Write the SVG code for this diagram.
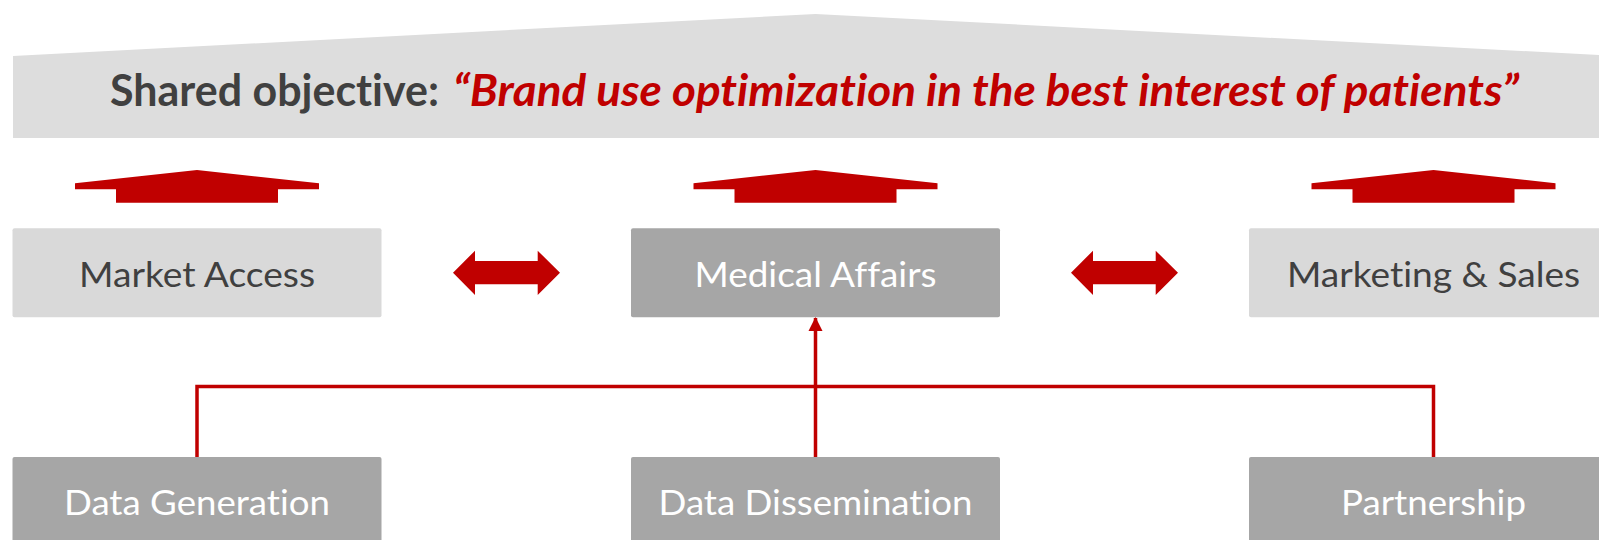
<svg xmlns="http://www.w3.org/2000/svg" width="1599" height="540" viewBox="0 0 1599 540">
  <style>
    text { font-variant-ligatures: none; font-feature-settings: "liga" 0, "clig" 0; }
    .lbl { font-family: Lato, "Open Sans", "Liberation Sans", sans-serif; font-size: 35px; text-anchor: middle; }
    .dark { fill: #404040; }
    .light { fill: #FFFFFF; }
    .boxL { fill: #D9D9D9; }
    .boxD { fill: #A6A6A6; }
    .red { fill: #C00000; }
    .conn { fill: none; stroke: #C00000; stroke-width: 3.5; }
  </style>
  <defs>
    <marker id="ah" markerUnits="userSpaceOnUse" markerWidth="16" markerHeight="16" viewBox="0 0 16 16" refX="13" refY="8" orient="auto">
      <path d="M0,1 L14,8 L0,15 Z" fill="#C00000"/>
    </marker>
    <path id="up" d="M-122,183.3 L0,170 L122,183.3 L122,189.3 L81,189.3 L81,202.7 L-81,202.7 L-81,189.3 L-122,189.3 Z"/>
    <path id="dbl" d="M0,22 L22,0 L22,10.3 L84.7,10.3 L84.7,0 L107,22 L84.7,44.3 L84.7,33.6 L22,33.6 L22,44.3 Z"/>
  </defs>

  <g id="banner">
    <path d="M13,56 L815.5,14 L1618,56 L1618,138 L13,138 Z" fill="#DDDDDD"/>
    <text x="110" y="106" font-family="Lato, 'Open Sans', 'Liberation Sans', sans-serif" font-size="43" font-weight="bold" fill="#404040" textLength="329" lengthAdjust="spacingAndGlyphs">Shared objective:</text>
    <text x="453" y="106" font-family="Lato, 'Open Sans', 'Liberation Sans', sans-serif" font-size="43" font-weight="bold" font-style="italic" fill="#C00000" textLength="1066" lengthAdjust="spacingAndGlyphs">“Brand use optimization in the best interest of patients”</text>
  </g>

  <g id="up-arrows">
    <use href="#up" x="197" class="red"/>
    <use href="#up" x="815.5" class="red"/>
    <use href="#up" x="1433.5" class="red"/>
  </g>

  <g id="market-access">
    <rect x="12.5" y="228.3" width="369" height="89" rx="2" class="boxL"/>
    <text x="197" y="286.7" class="lbl dark" textLength="236" lengthAdjust="spacingAndGlyphs">Market Access</text>
  </g>
  <g id="medical-affairs">
    <rect x="631" y="228.3" width="369" height="89" rx="2" class="boxD"/>
    <text x="815.5" y="286.7" class="lbl light" textLength="242" lengthAdjust="spacingAndGlyphs">Medical Affairs</text>
  </g>
  <g id="marketing-sales">
    <rect x="1249" y="228.3" width="369" height="89" rx="2" class="boxL"/>
    <text x="1433.5" y="286.7" class="lbl dark" textLength="293" lengthAdjust="spacingAndGlyphs">Marketing &amp; Sales</text>
  </g>

  <g id="exchange-arrows">
    <use href="#dbl" x="453" y="250.7" class="red"/>
    <use href="#dbl" x="1071" y="250.7" class="red"/>
  </g>

  <g id="data-generation">
    <rect x="12.5" y="457" width="369" height="90" rx="2" class="boxD"/>
    <text x="197" y="515" class="lbl light" textLength="266" lengthAdjust="spacingAndGlyphs">Data Generation</text>
  </g>
  <g id="data-dissemination">
    <rect x="631" y="457" width="369" height="90" rx="2" class="boxD"/>
    <text x="815.5" y="515" class="lbl light" textLength="314" lengthAdjust="spacingAndGlyphs">Data Dissemination</text>
  </g>
  <g id="partnership">
    <rect x="1249" y="457" width="369" height="90" rx="2" class="boxD"/>
    <text x="1433.5" y="515" class="lbl light" textLength="185" lengthAdjust="spacingAndGlyphs">Partnership</text>
  </g>

  <g id="connectors">
    <path class="conn" d="M197,457 V386.5 H1433.5 V457"/>
    <path class="conn" d="M815.5,457 V318" marker-end="url(#ah)"/>
  </g>
</svg>
